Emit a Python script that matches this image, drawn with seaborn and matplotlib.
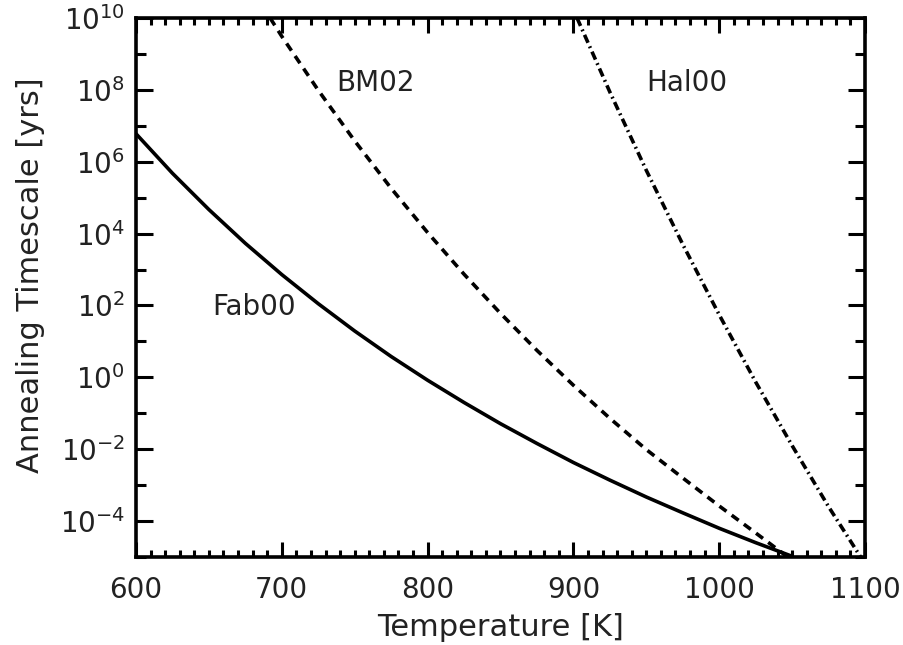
import numpy as np
import pandas as pd
import matplotlib
matplotlib.use("Agg")
import matplotlib.pyplot as plt
import matplotlib.ticker as mticker
import seaborn as sns

# temperatures [K] and log10 annealing timescale [yrs]
fab_T = [600, 625, 650, 675, 700, 725, 750, 775, 800, 825, 850, 875, 900, 925, 950, 975, 1000, 1025, 1050]
fab_log = [6.78, 5.68, 4.67, 3.73, 2.86, 2.05, 1.29, 0.58, -0.08, -0.70, -1.29, -1.84, -2.37, -2.86, -3.33, -3.77, -4.20, -4.60, -4.98]

bm_T = [692, 700, 725, 750, 775, 800, 825, 850, 875, 900, 925, 950, 975, 1000, 1025, 1047]
bm_log = [10.0, 9.49, 7.99, 6.58, 5.26, 4.03, 2.87, 1.78, 0.75, -0.22, -1.14, -2.01, -2.80, -3.58, -4.33, -5.0]

hal_T = [902.5, 925, 950, 975, 1000, 1025, 1050, 1075, 1097]
hal_log = [10.0, 7.94, 5.76, 3.70, 1.74, -0.13, -1.90, -3.60, -5.0]

labels = ["Fab00", "BM02", "Hal00"]
label_T = [681, 764, 978]
label_log = [1.97, 8.2, 8.2]

y_ticks = [1e-4, 1e-2, 1e0, 1e2, 1e4, 1e6, 1e8, 1e10]

sns.set_style("ticks")
plt.rcParams["font.family"] = ["DejaVu Sans"]
plt.rcParams["mathtext.default"] = "regular"
plt.rcParams["xtick.direction"] = "in"
plt.rcParams["ytick.direction"] = "in"

fig = plt.figure(figsize=(9.04, 6.45), dpi=100)
ax = fig.add_axes([0.1504, 0.1364, 0.8065, 0.8357])

df_fab = pd.DataFrame({"T": fab_T, "t": 10.0 ** np.array(fab_log)})
df_bm = pd.DataFrame({"T": bm_T, "t": 10.0 ** np.array(bm_log)})
df_hal = pd.DataFrame({"T": hal_T, "t": 10.0 ** np.array(hal_log)})

lw = 2.6
sns.lineplot(data=df_fab, x="T", y="t", ax=ax, color="black", lw=lw)
l2 = sns.lineplot(data=df_bm, x="T", y="t", ax=ax, color="black", lw=lw).lines[-1]
l2.set_dashes((2.4, 1.8))
l3 = sns.lineplot(data=df_hal, x="T", y="t", ax=ax, color="black", lw=lw).lines[-1]
l3.set_dashes((2.4, 1.1, 0.5, 1.1))
for ln in ax.lines:
    ln.set_dash_capstyle("butt")
    ln.set_solid_capstyle("butt")

ax.set_yscale("log")
ax.set_xlim(600, 1100)
ax.set_ylim(1e-5, 1e10)

for name, tx, ty in zip(labels, label_T, label_log):
    ax.text(tx, 10.0 ** ty, name, fontsize=20, color="#222222", ha="center", va="center")

ax.xaxis.set_major_locator(mticker.MultipleLocator(100))
ax.xaxis.set_minor_locator(mticker.MultipleLocator(10))
ax.yaxis.set_major_locator(mticker.FixedLocator(y_ticks))
ax.yaxis.set_minor_locator(mticker.FixedLocator([10.0 ** k for k in range(-5, 10, 2)]))
ax.yaxis.set_major_formatter(mticker.FuncFormatter(lambda v, p: "$10^{%d}$" % round(np.log10(v))))
ax.yaxis.set_minor_formatter(mticker.NullFormatter())

ax.tick_params(axis="both", which="both", direction="in", top=True, right=True,
               labelsize=20, labelcolor="#222222", width=2.2, color="black")
ax.tick_params(axis="y", which="major", length=12, pad=8)
ax.tick_params(axis="y", which="minor", length=7)
ax.tick_params(axis="x", which="major", length=11, pad=14)
ax.tick_params(axis="x", which="minor", length=5)
for s in ax.spines.values():
    s.set_linewidth(2.6)
    s.set_color("black")

ax.set_xlabel("Temperature [K]", fontsize=22, color="#222222", labelpad=6)
ax.set_ylabel("Annealing Timescale [yrs]", fontsize=22, color="#222222")
ax.yaxis.set_label_coords(-0.125, 0.523)

fig.savefig("out.png", dpi=100)
